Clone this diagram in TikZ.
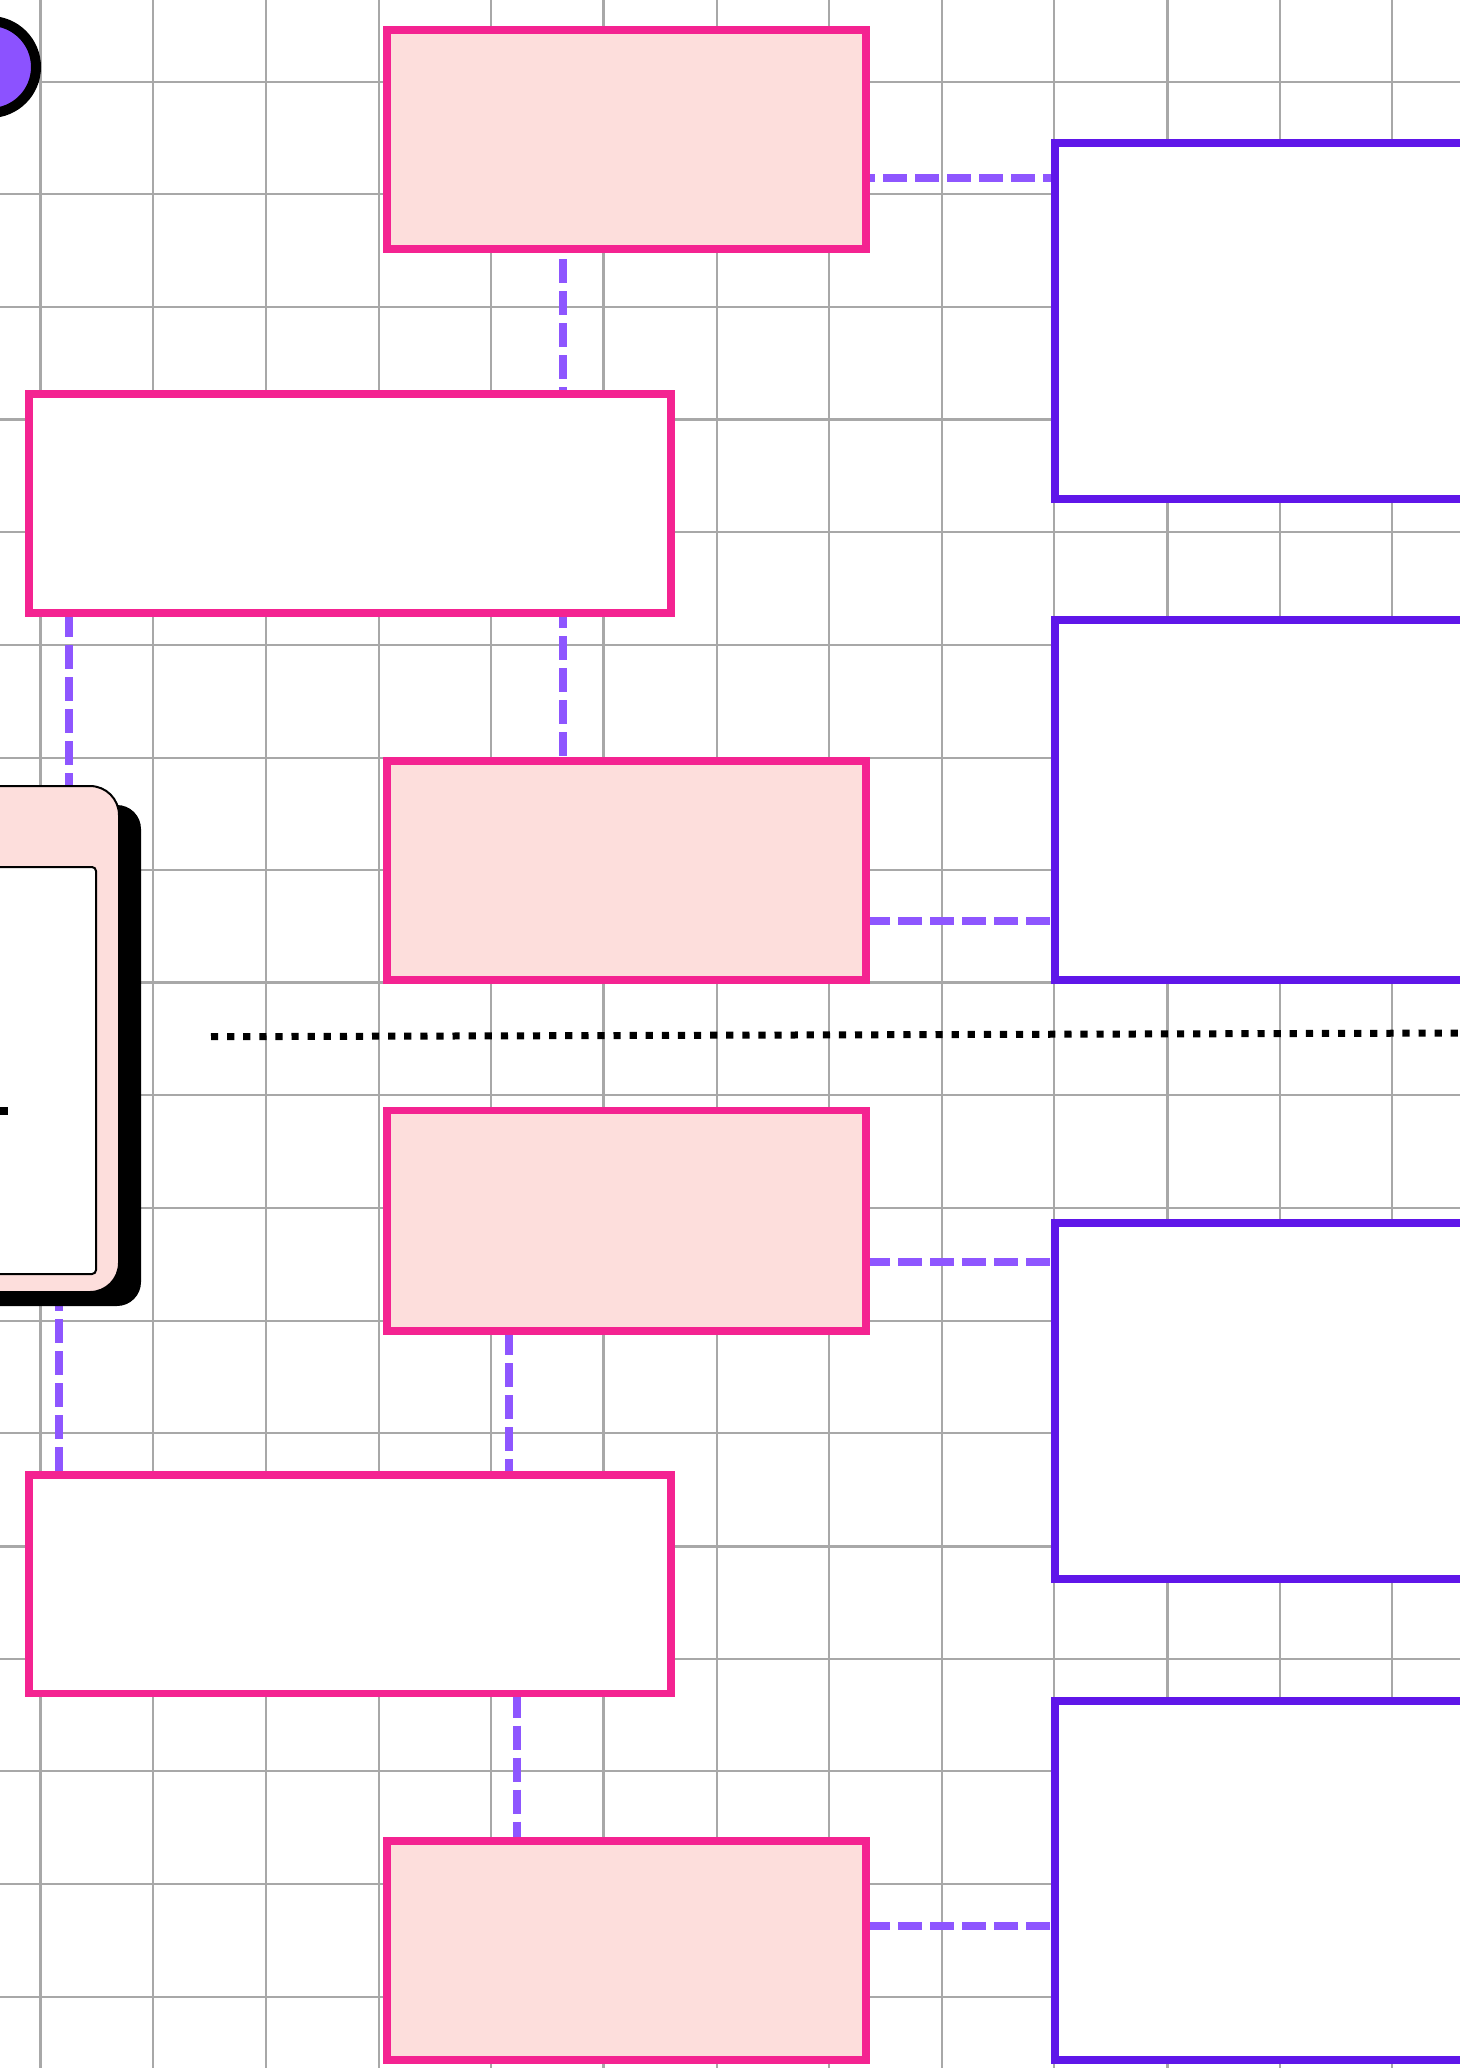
\documentclass[tikz,border=0pt]{standalone}
\usetikzlibrary{fit}
\definecolor{gridc}{HTML}{A8A8A8}
\definecolor{pinkb}{HTML}{F42391}
\definecolor{pinkf}{HTML}{FDDEDC}
\definecolor{purpb}{HTML}{5F16E9}
\definecolor{purpd}{HTML}{8E56FF}
\definecolor{blobc}{HTML}{8C52FF}
\pgfdeclarelayer{bg}
\pgfdeclarelayer{mid}
\pgfsetlayers{bg,mid,main}
\begin{document}
\begin{tikzpicture}[x=0.5pt,y=-0.5pt,
  gridminor/.style={draw=gridc, line width=1pt},
  gridmajor/.style={draw=gridc, line width=1.5pt},
  pinkbox/.style={draw=pinkb, line width=3.8pt, fill=pinkf, inner sep=0pt, outer sep=0pt},
  pinkwhite/.style={draw=pinkb, line width=3.8pt, fill=white, inner sep=0pt, outer sep=0pt},
  purpbox/.style={draw=purpb, line width=4pt, fill=white, inner sep=0pt, outer sep=0pt},
  conn/.style={draw=purpd, line width=4pt, dash pattern=on 12pt off 4pt},
  divider/.style={draw=black, line width=3.5pt, dash pattern=on 3.6pt off 4.45pt},
  cardbox/.style={draw=black, line width=1pt, fill=pinkf, rounded corners=14.5pt, inner sep=0pt, outer sep=0pt},
  innerbox/.style={draw=black, line width=1pt, fill=white, rounded corners=2pt, inner sep=0pt, outer sep=0pt},
  blobstyle/.style={circle, draw=black, line width=5pt, fill=blobc, minimum size=46pt, inner sep=0pt, outer sep=0pt}
]
\useasboundingbox (0,0) rectangle (1460,2068);
\begin{pgfonlayer}{bg}
  \fill[white] (0,0) rectangle (1460,2068);
  \foreach \k in {0,...,12}{
    \pgfmathsetmacro{\gx}{40.7+112.64*\k}
    \pgfmathtruncatemacro{\gm}{mod(\k,5)}
    \ifnum\gm=0 \draw[gridmajor] (\gx,0) -- (\gx,2068); \else \draw[gridminor] (\gx,0) -- (\gx,2068); \fi
  }
  \foreach \k in {0,...,17}{
    \pgfmathsetmacro{\gy}{81.7+112.64*\k}
    \pgfmathtruncatemacro{\gm}{mod(\k+2,5)}
    \ifnum\gm=0 \draw[gridmajor] (0,\gy) -- (1460,\gy); \else \draw[gridminor] (0,\gy) -- (1460,\gy); \fi
  }
\end{pgfonlayer}

% blob
\node[blobstyle] (blob) at (-10,67) {};

% boxes
\node[pinkbox, fit={(387,30) (866,249)}] (A) {};
\node[pinkwhite, fit={(29,394) (671,613)}] (B) {};
\node[pinkbox, fit={(387,761) (866,980)}] (C) {};
\node[pinkbox, fit={(387,1110.5) (866,1331)}] (D) {};
\node[pinkwhite, fit={(29,1475) (671,1693.5)}] (E) {};
\node[pinkbox, fit={(387,1841) (866,2060)}] (F) {};

\node[purpbox, fit={(1055,143) (1540,498.5)}] (P1) {};
\node[purpbox, fit={(1055,620) (1540,980)}] (P2) {};
\node[purpbox, fit={(1055,1222.6) (1540,1578.7)}] (P3) {};
\node[purpbox, fit={(1055,1701.4) (1540,2060)}] (P4) {};

% card with shadow
\fill[black, rounded corners=12pt] (-300,805) rectangle (141,1306);
\node[cardbox, fit={(-300,786) (119,1292)}] (card) {};
\node[innerbox, fit={(-300,867) (96,1274)}] (inner) {};
\fill[black] (-10,1107) rectangle (8,1115);

% divider
\draw[divider] (211,1036.7) -- (1470,1033);

% helper coordinates
\coordinate (yAP) at (0,178);
\coordinate (yCP) at (0,920.6);
\coordinate (yDP) at (0,1262);
\coordinate (yFP) at (0,1925.6);
\coordinate (xAB) at (563,0);
\coordinate (xBK) at (68.6,0);
\coordinate (xKE) at (59,0);
\coordinate (xDE) at (509,0);
\coordinate (xEF) at (517,0);

\begin{pgfonlayer}{mid}
  \draw[conn, dash phase=7.5pt] (A.east |- yAP) -- (P1.west |- yAP);
  \draw[conn] (C.east |- yCP) -- (P2.west |- yCP);
  \draw[conn] (D.east |- yDP) -- (P3.west |- yDP);
  \draw[conn] (F.east |- yFP) -- (P4.west |- yFP);
  \draw[conn, dash phase=11pt] (A.south -| xAB) -- (B.north -| xAB);
  \draw[conn, dash phase=4.5pt] (B.south -| xAB) -- (C.north -| xAB);
  \draw[conn] (B.south -| xBK) -- (card.north -| xBK);
  \draw[conn, dash phase=2.5pt] (card.south -| xKE) -- (E.north -| xKE);
  \draw[conn] (D.south -| xDE) -- (E.north -| xDE);
  \draw[conn] (E.south -| xEF) -- (F.north -| xEF);
\end{pgfonlayer}
\end{tikzpicture}
\end{document}
